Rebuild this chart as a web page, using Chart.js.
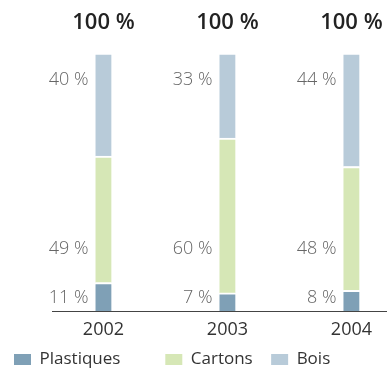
<!DOCTYPE html>
<html><head><meta charset="utf-8">
<script src="https://cdn.jsdelivr.net/npm/chart.js@4/dist/chart.umd.min.js"></script>
<style>html,body{margin:0;padding:0;background:#fff}#w{width:387px;height:369px}</style>
</head><body><div id="w"><canvas id="c"></canvas></div>
<script>
const years = [2002, 2003, 2004];
const plastiques = [11, 7, 8];
const cartons = [49, 60, 48];
const bois = [40, 33, 44];
const seriesNames = ['Plastiques', 'Cartons', 'Bois'];
const colors = ['#7fa0b6', '#d6e7b6', '#b8cbd9'];
const labelRowValue = [5, 24, 89.5]; // label rows (in value units)

const FONT = "'Open Sans', 'Noto Sans', sans-serif";

const labelsPlugin = {
  id: 'lbls',
  afterDatasetsDraw(chart) {
    const ctx = chart.ctx, xs = chart.scales.x, ys = chart.scales.y;
    ctx.save();
    chart.data.datasets.forEach((ds, di) => {
      ds.data.forEach((p) => {
        const x = xs.getPixelForValue(p.x) - 15;
        const y = ys.getPixelForValue(labelRowValue[di]);
        ctx.font = "300 18px " + FONT;
        ctx.fillStyle = '#666';
        ctx.textAlign = 'right';
        ctx.textBaseline = 'middle';
        ctx.fillText(p.y + ' %', x, y);
      });
    });
    years.forEach((yr, i) => {
      const tot = plastiques[i] + cartons[i] + bois[i];
      ctx.font = "600 22px " + FONT;
      ctx.fillStyle = '#222';
      ctx.textAlign = 'center';
      ctx.textBaseline = 'middle';
      ctx.fillText(tot + ' %', xs.getPixelForValue(yr), 23);
    });
    ctx.restore();
  }
};

const mk = (arr) => arr.map((v, i) => ({x: years[i], y: v}));

new Chart(document.getElementById('c'), {
  type: 'bar',
  data: {
    datasets: [plastiques, cartons, bois].map((arr, i) => ({
      label: seriesNames[i],
      data: mk(arr),
      backgroundColor: colors[i],
      borderColor: '#ffffff',
      borderWidth: {top: 2, left: 0, right: 0, bottom: 0},
      borderSkipped: false,
      barThickness: 16
    }))
  },
  options: {
    responsive: true, maintainAspectRatio: false, animation: false,
    layout: {padding: {top: 53, left: 0, right: 0, bottom: -9}},
    plugins: {
      tooltip: {enabled: false},
      legend: {
        position: 'bottom', align: 'start',
        labels: {
          boxWidth: 17, boxHeight: 11, padding: 14,
          color: '#333', font: {family: FONT, size: 17},
          generateLabels: (chart) => {
            const items = Chart.defaults.plugins.legend.labels.generateLabels(chart);
            const pads = ['       ', ' ', ''];
            items.forEach((it, i) => { it.text = it.text + pads[i]; it.lineWidth = 0; });
            return items;
          }
        }
      }
    },
    scales: {
      x: {
        type: 'linear', stacked: true, offset: false,
        min: 2001.585, max: 2004.287,
        afterBuildTicks: (s) => { s.ticks = years.map(v => ({value: v})); },
        ticks: {callback: (v) => String(v), color: '#333', font: {family: FONT, size: 18, lineHeight: 1}, padding: 10, maxRotation: 0},
        grid: {display: false, drawTicks: false},
        border: {display: true, color: '#444', width: 1},
        afterFit: (s) => { s.height = 26; }
      },
      y: {
        stacked: true, min: 0, max: 100, display: true,
        ticks: {display: false}, grid: {display: false, drawTicks: false},
        border: {display: false},
        afterFit: (s) => { s.width = 52; }
      }
    }
  },
  plugins: [labelsPlugin]
});
</script>
</body></html>
